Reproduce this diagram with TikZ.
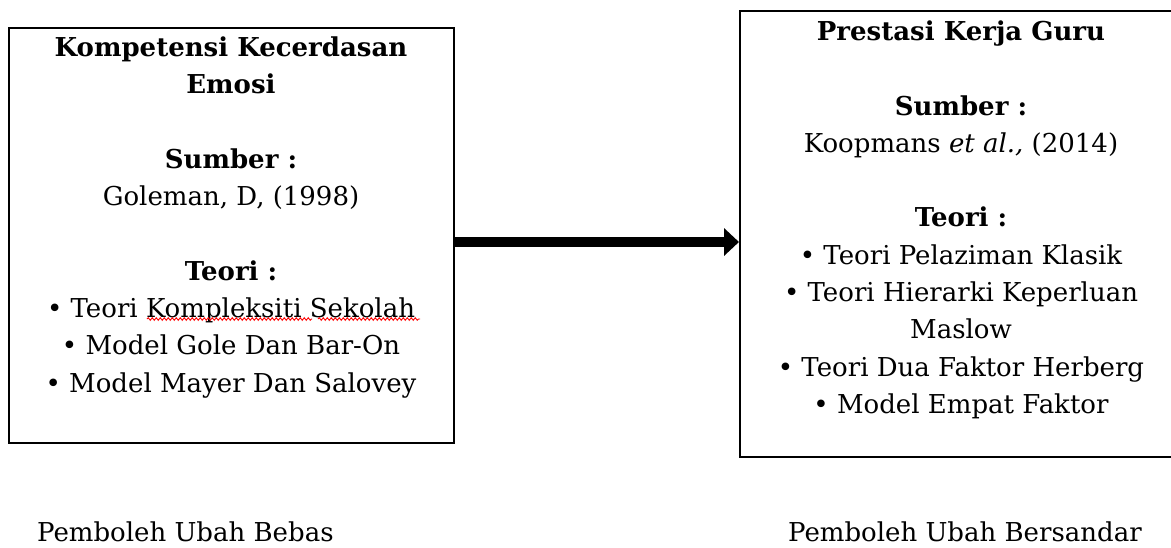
\documentclass[tikz,border=0pt]{standalone}
\usepackage{fontspec}
\setmainfont{DejaVu Serif}
\usetikzlibrary{arrows.meta,decorations.pathmorphing}
\begin{document}
\begin{tikzpicture}[x=1pt,y=-1pt,
  box/.style={draw, line width=2pt, inner sep=0pt, anchor=north west},
  body/.style={align=center, inner sep=0pt, anchor=north, font=\fontsize{26}{37.3}\selectfont},
  label/.style={inner sep=0pt, anchor=base west, font=\fontsize{26}{30}\selectfont},
  wave/.style={red, line width=0.9pt, decorate, decoration={snake, amplitude=1.3pt, segment length=4pt}},
  conn/.style={line width=10pt, -{Triangle[length=15pt,width=27pt]}}]
\useasboundingbox (0,0) rectangle (1171,547);
\node[box, minimum width=445pt, minimum height=415pt] (L) at (8,27) {};
\node[box, minimum width=442pt, minimum height=446pt] (R) at (739,10) {};
\node[body] (Lt) at (231,36.5) {\textbf{Kompetensi Kecerdasan}\\\textbf{Emosi}\\[37.3pt]
  \textbf{Sumber :}\\Goleman, D, (1998)\\[37.3pt]
  \textbf{Teori :}\\• Teori Kompleksiti Sekolah\\• Model Gole Dan Bar-On\\• Model Mayer Dan Salovey};
\node[body] (Rt) at (961,20.5) {\textbf{Prestasi Kerja Guru}\\[37.3pt]
  \textbf{Sumber :}\\Koopmans \textit{et al.,} (2014)\\[37.3pt]
  \textbf{Teori :}\\• Teori Pelaziman Klasik\\• Teori Hierarki Keperluan\\Maslow\\• Teori Dua Faktor Herberg\\• Model Empat Faktor};
\node[label] (Lb) at (37,541) {Pemboleh Ubah Bebas};
\node[label] (Rb) at (788,541) {Pemboleh Ubah Bersandar};
\draw[wave] (147,319) -- (312,319);
\draw[wave] (318,319) -- (420,319);
\coordinate (ay) at (0,242);
\draw[conn] (L.east |- ay) -- (R.west |- ay);
\end{tikzpicture}
\end{document}
